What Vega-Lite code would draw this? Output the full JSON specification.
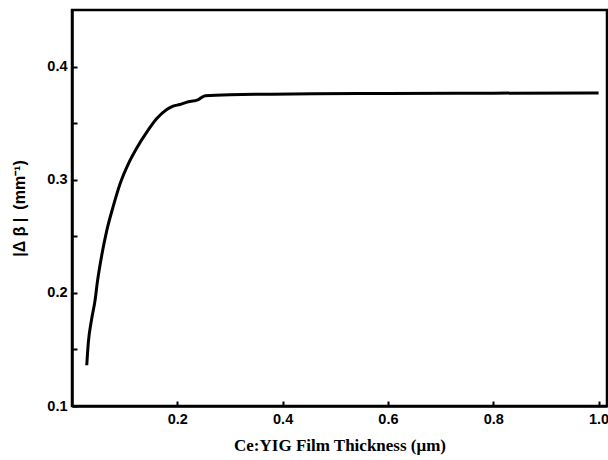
{
  "$schema": "https://vega.github.io/schema/vega-lite/v6.json",
  "width": 535,
  "height": 396,
  "autosize": "none",
  "padding": {"left": 72, "top": 10, "right": 1, "bottom": 54},
  "background": "white",
  "config": {
    "view": {"stroke": "black", "strokeWidth": 2.5},
    "axis": {
      "grid": false,
      "domainColor": "black",
      "domainWidth": 2.5,
      "tickColor": "black",
      "tickWidth": 2,
      "labelFont": "Liberation Sans",
      "labelFontWeight": "bold",
      "labelFontSize": 14.5,
      "labelColor": "black",
      "titleColor": "black"
    }
  },
  "data": {
    "values": [
      {"t": 0.028, "v": 0.136},
      {"t": 0.031, "v": 0.156},
      {"t": 0.037, "v": 0.176},
      {"t": 0.044, "v": 0.194},
      {"t": 0.048, "v": 0.209},
      {"t": 0.056, "v": 0.232},
      {"t": 0.066, "v": 0.255},
      {"t": 0.078, "v": 0.276},
      {"t": 0.091, "v": 0.296},
      {"t": 0.107, "v": 0.314},
      {"t": 0.123, "v": 0.328},
      {"t": 0.142, "v": 0.342},
      {"t": 0.161, "v": 0.354},
      {"t": 0.180, "v": 0.362},
      {"t": 0.192, "v": 0.365},
      {"t": 0.205, "v": 0.3665},
      {"t": 0.217, "v": 0.3684},
      {"t": 0.240, "v": 0.3708},
      {"t": 0.253, "v": 0.3743},
      {"t": 0.300, "v": 0.3752},
      {"t": 0.458, "v": 0.3759},
      {"t": 0.600, "v": 0.3763},
      {"t": 0.800, "v": 0.3765},
      {"t": 1.000, "v": 0.3767}
    ]
  },
  "mark": {"type": "line", "color": "black", "strokeWidth": 3, "clip": true, "interpolate": "monotone"},
  "encoding": {
    "x": {
      "field": "t",
      "type": "quantitative",
      "scale": {"domain": [0, 1.016], "nice": false, "zero": false},
      "axis": {
        "title": "Ce:YIG  Film Thickness (μm)",
        "titleFont": "Liberation Serif",
        "titleFontWeight": "bold",
        "titleFontSize": 17,
        "titlePadding": 12,
        "values": [0.2, 0.4, 0.6, 0.8, 1.0],
        "format": ".1f",
        "tickSize": -5,
        "labelPadding": 11
      }
    },
    "y": {
      "field": "v",
      "type": "quantitative",
      "scale": {"domain": [0.1, 0.45], "nice": false, "zero": false},
      "axis": {
        "title": "|Δ β |\u2002(mm⁻¹)",
        "titleFont": "Liberation Sans",
        "titleFontWeight": "bold",
        "titleFontSize": 16,
        "titlePadding": 19,
        "values": [0.1, 0.15, 0.2, 0.25, 0.3, 0.35, 0.4],
        "labelExpr": "abs(datum.value*10 - round(datum.value*10)) < 0.01 ? format(datum.value, '.1f') : ''",
        "tickSize": -5,
        "labelPadding": 10
      }
    }
  }
}
